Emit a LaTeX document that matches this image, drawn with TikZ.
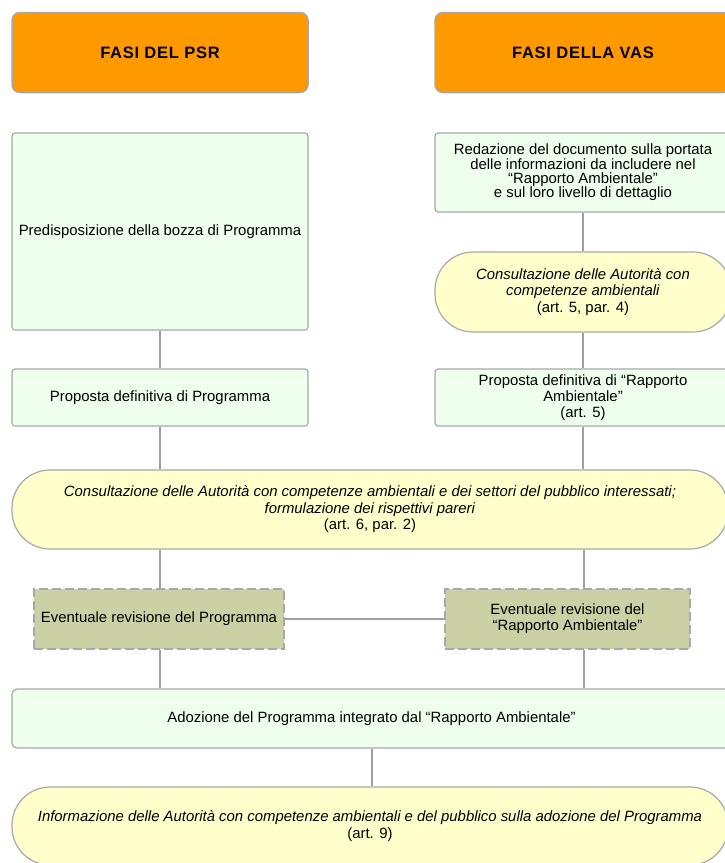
\documentclass[tikz,border=0pt]{standalone}
\usepackage{fontspec}
\setmainfont{Liberation Sans}
\newfontfamily\hdrfont[LetterSpace=4.5]{Liberation Sans}
\definecolor{hdr}{HTML}{FF9900}
\definecolor{grn}{HTML}{EEFFEE}
\definecolor{ylw}{HTML}{FFFFCC}
\definecolor{rev}{HTML}{CBD1A4}
\definecolor{edge}{HTML}{A8A8A8}
\definecolor{linkc}{HTML}{A0A0A0}
\begin{document}
\begin{tikzpicture}[x=1pt,y=-1pt,
  every node/.style={font=\fontsize{14.9}{16}\selectfont, align=center, inner sep=0pt, text=black},
  hdrbox/.style={draw=edge, fill=hdr, line width=1.5pt, rounded corners=8pt, minimum width=296pt, minimum height=80pt, font=\hdrfont\fontsize{16.5}{18}\selectfont\bfseries},
  greenbox/.style={draw=edge, fill=grn, line width=1.2pt, rounded corners=3pt},
  stadium/.style={draw=edge, fill=ylw, line width=1.2pt, rounded corners=38pt, font=\fontsize{14.9}{16.5}\selectfont},
  revbox/.style={draw=edge, fill=rev, line width=2.5pt, dash pattern=on 9pt off 4pt, minimum height=60pt},
  link/.style={draw=linkc, line width=1.2pt}
]
\useasboundingbox (0,0) rectangle (724,863);
\fill[white] (0,0) rectangle (724,863);

\node[hdrbox] (h1) at (160,52.5) {FASI DEL PSR};
\node[hdrbox] (h2) at (583,52.5) {FASI DELLA VAS};

\node[greenbox, minimum width=296pt, minimum height=197pt] (b1) at (160,231.5) {Predisposizione della bozza di Programma};
\node[greenbox, minimum width=296pt, minimum height=79pt, font=\fontsize{14.9}{14.4}\selectfont] (r1) at (583,172.5) {Redazione del documento sulla portata\\delle informazioni da includere nel\\“Rapporto Ambientale”\\e sul loro livello di dettaglio};
\node[stadium, minimum width=296pt, minimum height=80pt] (r2) at (583,292) {\textit{Consultazione delle Autorità con}\\\textit{competenze ambientali}\\(art. 5, par. 4)};

\node[greenbox, minimum width=296pt, minimum height=57pt] (b2) at (160,397.5) {Proposta definitiva di Programma};
\node[greenbox, minimum width=296pt, minimum height=57pt] (r3) at (583,397.5) {Proposta definitiva di “Rapporto\\Ambientale”\\(art. 5)};

\node[stadium, minimum width=716pt, minimum height=79pt] (s1) at (370,509.5) {\textit{Consultazione delle Autorità con competenze ambientali e dei settori del pubblico interessati;}\\\textit{formulazione dei rispettivi pareri}\\(art. 6, par. 2)};

\node[revbox, minimum width=250pt] (d1) at (159,619) {Eventuale revisione del Programma};
\node[revbox, minimum width=245pt] (d2) at (567.5,619) {Eventuale revisione del\\“Rapporto Ambientale”};

\node[greenbox, rounded corners=5pt, minimum width=719pt, minimum height=59pt] (ad) at (371.5,718.5) {Adozione del Programma integrato dal “Rapporto Ambientale”};

\node[stadium, minimum width=716pt, minimum height=78pt] (s2) at (370,826) {\textit{Informazione delle Autorità con competenze ambientali e del pubblico sulla adozione del Programma}\\(art. 9)};

\coordinate (lx) at (160,0);
\coordinate (rx) at (584,0);
\coordinate (cx) at (372,0);

\draw[link] (b1) -- (b2);
\draw[link] (b2.south) -- (b2.south |- s1.north);
\draw[link] (r1) -- (r2);
\draw[link] (r2) -- (r3);
\draw[link] (r3.south) -- (r3.south |- s1.north);
\draw[link] (s1.south -| lx) -- (d1.north -| lx);
\draw[link] (d1.south -| lx) -- (ad.north -| lx);
\draw[link] (s1.south -| rx) -- (d2.north -| rx);
\draw[link] (d2.south -| rx) -- (ad.north -| rx);
\draw[link] (d1.east) -- (d2.west);
\draw[link] (ad.south -| cx) -- (s2.north -| cx);
\end{tikzpicture}
\end{document}
